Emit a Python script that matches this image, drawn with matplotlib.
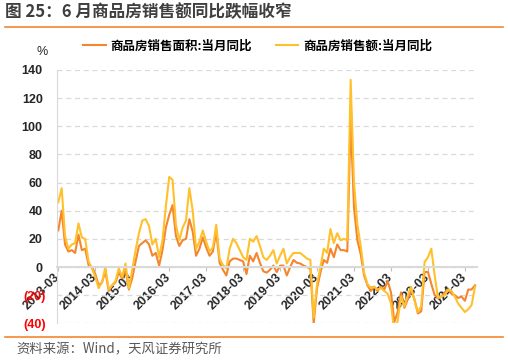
import numpy as np
import matplotlib.pyplot as plt
from matplotlib.lines import Line2D

plt.rcParams["font.family"] = ["Noto Sans CJK SC", "DejaVu Sans"]

ORANGE = "#F3862E"
YELLOW = "#FFC12B"

# monthly YoY (%), 2013-03 .. 2024-06, January merged into February (Wind style)
area_yoy = [
    26, 40, 16, 11, 12, 10, 23, 12, 13, 1.4,                 # 2013
    0, -5, -13, -11, -3, -17, -13, -11, -4, -8, -2,          # 2014
    -16, -8, 4, 15, 17, 19, 16, 8, 10, 1, 12,                # 2015
    28, 37, 44, 22, 15, 19, 20, 34, 25, 8, 13,               # 2016
    21, 14, 8, 11, 25, 3, -2, -6, 4, 6, 6,                   # 2017
    5, 4, -5, 8, 4, 10, 3, -3, -4, -2, 1,                    # 2018
    -3.6, 1, 1, -6, 0, 5, 3, 2.5, 1, 0, -1,                  # 2019
    -40, -15, -4, 5, 3, 13, 7, 16, 12, 12, 11,               # 2020
    105, 42, 19, 9, -6, -13, -17, -14, -17, -14, -16,        # 2021
    -10, -18, -39, -32, -18, -29, -23, -16, -23, -33, -31.5, # 2022
    -3.6, -3.5, -12, -20, -22, -21, -18, -16, -19, -20, -22, # 2023
    -21, -24, -16, -16, -13,                                 # 2024
]
value_yoy = [
    46, 56, 22, 13, 16, 17, 31, 21, 20, 4,                   # 2013
    -1, -7, -15, -11, 0, -16, -13, -10, -1, -7, 2.5,         # 2014
    -15, -2, 12, 24, 33, 34, 29, 16, 20, 7, 19,              # 2015
    43, 64, 62, 30, 19, 28, 33, 56, 40, 13, 18,              # 2016
    26, 18, 11, 14, 30, 6, 1.4, -1, 13, 20, 17,              # 2017
    12, 7, 5, 20, 18, 22, 15, 7, 5, 8, 12,                   # 2018
    2.5, 8, 13, 2.5, 7, 10, 10, 10, 8, 6, 5,                 # 2019
    -36, -12, 0, 13, 10, 27, 17, 24, 19, 20, 19,             # 2020
    133, 60, 30, 15, -4, -12, -15, -14, -16, -15, -17,       # 2021
    -19, -26, -46.6, -38, -21, -28, -20, -14, -24, -32, -28, # 2022
    3.5, 7, 13, -6, -22, -21, -20, -16, -17, -21, -26,       # 2023
    -29, -32, -30, -27, -14,                                 # 2024
]
tick_labels = ["2013-03", "2014-03", "2015-03", "2016-03", "2017-03", "2018-03",
               "2019-03", "2020-03", "2021-03", "2022-03", "2023-03", "2024-03"]
y_ticks = [-40, -20, 0, 20, 40, 60, 80, 100, 120, 140]

W, H = 508, 361
fig = plt.figure(figsize=(W / 100, H / 100), dpi=100)
ax = fig.add_axes([57.3 / W, 1 - 323.3 / H, (477 - 57.3) / W, (323.3 - 70) / H])

# spine position first: set_position resets the ticks
for s in ["top", "right"]:
    ax.spines[s].set_visible(False)
ax.spines["bottom"].set_position(("data", 0))
ax.spines["bottom"].set_color("#D9D9D9")
ax.spines["bottom"].set_linewidth(1.5)
ax.spines["left"].set_color("#D9D9D9")
ax.spines["left"].set_linewidth(0.8)

x = np.arange(len(value_yoy))
ax.plot(x, area_yoy, color=ORANGE, lw=1.5, label="商品房销售面积:当月同比")
ax.plot(x, value_yoy, color=YELLOW, lw=1.5, label="商品房销售额:当月同比")

ax.set_xlim(-0.3, 124.6)
ax.set_ylim(-40, 140)

ax.set_yticks(y_ticks)
ax.set_yticklabels([f"({-v})" if v < 0 else f"{v}" for v in y_ticks],
                   fontfamily="Liberation Sans", fontweight="bold", fontsize=9)
ax.tick_params(axis="y", length=0)
for t, v in zip(ax.yaxis.get_major_ticks(), y_ticks):
    t.set_pad(10.5 if v >= 0 else 8)
    t.label1.set_color("#FF0000" if v < 0 else "#262626")

ax.set_xticks(np.arange(0, len(value_yoy), 11))
ax.tick_params(axis="x", length=3, color="#BFBFBF", pad=3)
ax.set_xticklabels(tick_labels, rotation=45, ha="right", rotation_mode="anchor",
                   va="center", fontfamily="Liberation Sans", fontweight="bold",
                   fontsize=9, color="#262626")

ax.yaxis.grid(True, ls=(0, (4, 3)), color="#D9D9D9", lw=0.9)
ax.set_axisbelow(True)

ax.legend(loc="center left", bbox_to_anchor=(83 / W, 1 - 46 / H),
          bbox_transform=fig.transFigure, ncol=2, frameon=False,
          prop={"weight": "bold", "size": 9}, handlelength=1.8,
          handletextpad=0.4, columnspacing=1.9, borderpad=0, borderaxespad=0)

fig.text(41.7 / W, 1 - 52 / H, "%", ha="center", va="center",
         fontfamily="Liberation Sans", fontsize=9, color="#262626")

fig.text(5 / W, 1 - 12 / H, "图 25：6 月商品房销售额同比跌幅收窄",
         fontsize=12, fontweight="bold", color="#3F3F3F", va="center")
fig.add_artist(Line2D([5 / W, 503 / W], [1 - 27 / H] * 2, color=ORANGE, lw=1.2))
fig.add_artist(Line2D([5 / W, 503 / W], [1 - 336.7 / H] * 2, color=ORANGE, lw=1.2))
fig.text(16 / W, 1 - 349 / H, "资料来源：Wind，天风证券研究所",
         fontsize=9.6, color="#595959", va="center")

fig.savefig("out.png", dpi=100)
